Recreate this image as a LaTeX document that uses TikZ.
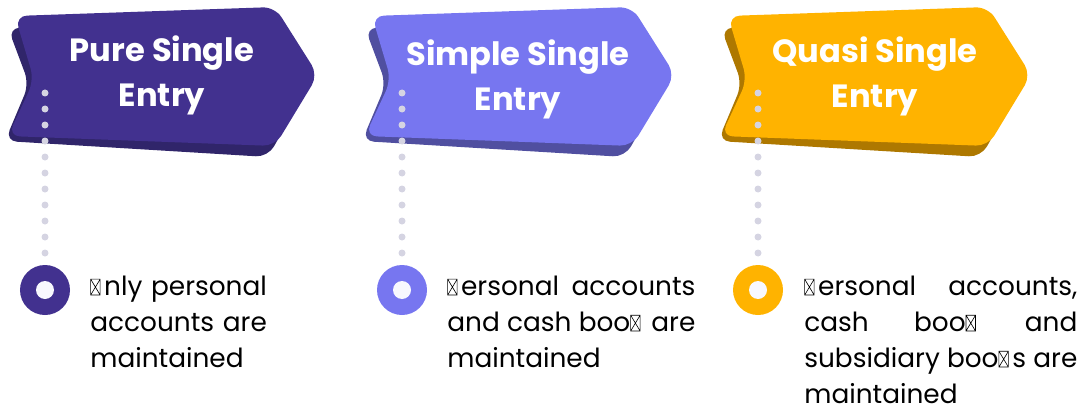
\documentclass[tikz,border=0pt]{standalone}
\usepackage{fontspec}
\setmainfont{Poppins}

\definecolor{pureface}{HTML}{42318F}
\definecolor{pureside}{HTML}{30256A}
\definecolor{simpleface}{HTML}{7776F0}
\definecolor{simpleside}{HTML}{504FA0}
\definecolor{quasiface}{HTML}{FFB300}
\definecolor{quasiside}{HTML}{AE7800}
\definecolor{dotgray}{HTML}{D5D4E2}
\definecolor{holewhite}{HTML}{F8F8FE}

% box drawn where the font had no glyph
\newcommand{\nog}{\tikz[baseline=0pt]\draw[line width=0.35pt] (0,0) rectangle (0.36em,0.6em) (0,0) -- (0.36em,0.6em) (0,0.6em) -- (0.36em,0);\hspace{0.14em}}

\begin{document}
\begin{tikzpicture}[x=0.2mm, y=-0.2mm,
    face/.style={rounded corners=2.4mm},
    title/.style={text=white, font=\fontsize{18.3}{25.5}\selectfont\bfseries, align=center},
    ring/.style={circle, minimum size=10mm, inner sep=0pt},
    dots/.style={dotgray, line width=1.4mm, line cap=round, dash pattern=on 0pt off 3.2mm},
    body/.style={anchor=base west, inner sep=0pt, font=\fontsize{15}{20.5}\selectfont, align=justify}]

    \useasboundingbox (0,0) rectangle (1084,412);

    % Pure single entry
    \fill[pureside, face] (8,28) -- (265,20) -- (308,86) -- (268,157) -- (5,141) -- (29,84) -- cycle;
    \fill[pureface, face] (15,16) -- (275,7) -- (318,75) -- (275,146) -- (8,136) -- (34,80) -- cycle;
    \node[title] (pure) at (162,75) {Pure Single\\Entry};
    \coordinate (puretop) at (45,93);
    \node[ring, fill=pureface] (purering) at (45,290) {};
    \draw[dots] (puretop) -- (purering.north);
    \fill[holewhite] (purering) circle (1.8mm);
    \node[body, text width=40mm, align=left] (purenote) at (90,295) {\nog nly personal\\accounts are\\maintained};

    % Simple single entry
    \begin{scope}[shift={(357,0)}]
    \fill[simpleside, face] (8,28) -- (265,20) -- (308,86) -- (268,157) -- (5,141) -- (29,84) -- cycle;
    \fill[simpleface, face] (15,16) -- (275,7) -- (318,75) -- (275,146) -- (8,136) -- (34,80) -- cycle;
    \node[title] (simple) at (161,79) {Simple Single\\Entry};
    \coordinate (simpletop) at (45,93);
    \node[ring, fill=simpleface] (simplering) at (45,290) {};
    \draw[dots] (simpletop) -- (simplering.north);
    \fill[holewhite] (simplering) circle (1.8mm);
    \node[body, text width=49.6mm] (simplenote) at (90,295) {\nog ersonal accounts\linebreak and cash boo\nog\ are\linebreak maintained};
    \end{scope}

    % Quasi single entry
    \begin{scope}[shift={(713,0)}]
    \fill[quasiside, face] (8,28) -- (265,20) -- (308,86) -- (268,157) -- (5,141) -- (29,84) -- cycle;
    \fill[quasiface, face] (15,16) -- (275,7) -- (318,75) -- (275,146) -- (8,136) -- (34,80) -- cycle;
    \node[title] (quasi) at (162,76) {Quasi Single\\Entry};
    \coordinate (quasitop) at (45,93);
    \node[ring, fill=quasiface] (quasiring) at (45,290) {};
    \draw[dots] (quasitop) -- (quasiring.north);
    \fill[holewhite] (quasiring) circle (1.8mm);
    \node[body, text width=54.6mm] (quasinote) at (91,295) {\nog ersonal accounts,\linebreak cash boo\nog\ and\linebreak subsidiary boo\nog s are\linebreak maintained};
    \end{scope}
\end{tikzpicture}
\end{document}
